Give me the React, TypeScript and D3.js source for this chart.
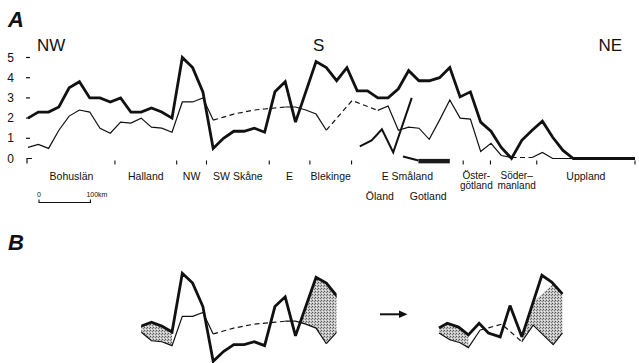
import React from "react";
import * as d3 from "d3";

const WIDTH = 639;
const HEIGHT = 363;
const FONT = "'Liberation Sans', Arial, Helvetica, sans-serif";

// Coastal profile, one sample every 20 km from the NW end
const SAMPLE_STEP_KM = 20;
const COAST_LENGTH_KM = 1180;

const thickValues: number[] = [
  2.0, 2.3, 2.3, 2.55, 3.5, 3.8, 3.0, 3.0, 2.8, 3.0,
  2.3, 2.3, 2.5, 2.3, 2.0, 5.0, 4.5, 3.3, 0.5, 1.0,
  1.35, 1.35, 1.5, 1.3, 3.3, 3.8, 1.8, 3.3, 4.8, 4.5,
  3.85, 4.5, 3.35, 3.35, 3.0, 3.0, 3.45, 4.35, 3.85, 3.85,
  4.0, 4.5, 3.05, 3.3, 1.8, 1.35, 0.55, 0.0, 0.9, 1.4,
  1.85, 1.05, 0.4, 0, 0, 0, 0, 0, 0, 0,
];

const thinValues: (number | null)[] = [
  0.55, 0.7, 0.5, 1.4, 2.1, 2.4, 2.3, 1.5, 1.25, 1.8,
  1.75, 2.0, 1.55, 1.5, 1.3, 2.8, 2.8, 3.0, 1.9, null,
  null, null, null, null, null, 2.55, 2.55, 2.4, 2.2, 1.4,
  null, null, null, null, 2.38, 2.6, 1.4, 1.55, 1.5, 0.95,
  1.9, 2.9, 2.0, 1.95, 0.35, 0.75, 0.15, 0.05, null, 0.05,
  0.3, 0, 0, 0, 0, 0, 0, 0, 0, 0,
];

// Stretches of the thin profile that are only inferred (dashed): [km, value]
const thinDashedRuns: [number, number][][] = [
  [[360, 1.9], [380, 2.05], [400, 2.2], [420, 2.3], [440, 2.4], [460, 2.45], [480, 2.5], [500, 2.55]],
  [[580, 1.4], [630, 2.87], [680, 2.38]],
  [[940, 0.05], [960, 0.05], [980, 0.05]],
];

// Island profiles
const olandKm = [645, 668, 688, 710, 746];
const olandValues = [0.6, 0.9, 1.45, 0.3, 3.0];
const gotlandKm = [729, 759];
const gotlandValues = [0.1, -0.1];
const gotlandBandKm = [759, 820];

// Region boundaries along the coast (km) and their names
const regionBreaksKm = [0, 169, 289, 347, 469, 548, 629, 846, 899, 989, COAST_LENGTH_KM];
const regionNames: string[][] = [
  ["Bohuslän"], ["Halland"], ["NW"], ["SW Skåne"], ["E"], ["Blekinge"],
  ["E Småland"], ["Öster-", "götland"], ["Söder–", "manland"], ["Uppland"],
];
const islandNames = ["Öland", "Gotland"];
const islandKm = [684, 778];

const yTickValues = [0, 1, 2, 3, 4, 5];
const compassLabels = ["NW", "S", "NE"];

// Panel B: the Halland – Blekinge stretch, before and after
const bBeforeRangeKm = [220, 600];
const bAfterThickKm = [799, 815, 837, 856, 877, 895, 918, 937, 960, 999, 1018, 1039];
const bAfterThickValues = [2.2, 2.45, 2.25, 1.85, 2.45, 1.95, 1.75, 3.35, 1.75, 4.9, 4.55, 3.95];
const bAfterThinKm = [799, 820, 840, 856, 879];
const bAfterThinValues = [1.95, 1.6, 1.45, 1.2, 2.1];
const bAfterDashedKm = [879, 921, 960];
const bAfterDashedValues = [2.1, 2.4, 1.5];
const bAfterThinEndKm = [960, 982, 1021, 1039];
const bAfterThinEndValues = [1.5, 2.35, 1.35, 1.95];

type Pt = [number, number | null];

const x = d3.scaleLinear().domain([0, COAST_LENGTH_KM]).range([28, 635]);
const yA = d3.scaleLinear().domain([0, 5]).range([158.5, 57.5]);
const yB = d3.scaleLinear().domain([0, 5]).range([371.1, 273.3]);

const lineA = d3
  .line<Pt>()
  .defined((d) => d[1] !== null)
  .x((d) => x(d[0]))
  .y((d) => yA(d[1] as number));
const lineB = d3
  .line<Pt>()
  .defined((d) => d[1] !== null)
  .x((d) => x(d[0]))
  .y((d) => yB(d[1] as number));
const areaB = d3
  .area<[number, number, number]>()
  .x((d) => x(d[0]))
  .y0((d) => yB(d[2]))
  .y1((d) => yB(d[1]));

const thickPts: Pt[] = thickValues.map((v, i) => [i * SAMPLE_STEP_KM, v]);
const thinPts: Pt[] = thinValues.map((v, i) => [i * SAMPLE_STEP_KM, v]);
const zip = (a: number[], b: number[]): Pt[] => a.map((k, i) => [k, b[i]]);

function valueAt(pts: [number, number][], km: number): number {
  const sorted = [...pts].sort((p, q) => p[0] - q[0]);
  for (let i = 0; i < sorted.length - 1; i++) {
    const [k0, v0] = sorted[i];
    const [k1, v1] = sorted[i + 1];
    if (km >= k0 && km <= k1) return v0 + ((km - k0) / (k1 - k0)) * (v1 - v0);
  }
  return sorted[sorted.length - 1][1];
}

// lower edge of the thin profile, solid and dashed pieces together
const thinAll: [number, number][] = [
  ...(thinPts.filter((d) => d[1] !== null) as [number, number][]),
  ...thinDashedRuns.flat(),
];
const thickAll = thickPts as [number, number][];

function crossing(a: [number, number][], b: [number, number][], k0: number, k1: number): number {
  const d0 = valueAt(a, k0) - valueAt(b, k0);
  const d1 = valueAt(a, k1) - valueAt(b, k1);
  return k0 + (d0 / (d0 - d1)) * (k1 - k0);
}

function band(top: [number, number][], bottom: [number, number][], kms: number[]) {
  return areaB(kms.map((k) => [k, valueAt(top, k), valueAt(bottom, k)] as [number, number, number])) || "";
}

export default function App() {
  const bLeftStart = bBeforeRangeKm[0];
  const bLeftEnd = bBeforeRangeKm[1];
  const cross = crossing(thickAll, thinAll, 520, 540);
  const leftBandKm = d3.range(bLeftStart, 280 + 1, SAMPLE_STEP_KM);
  const rightBandKm = [cross, ...d3.range(540, bLeftEnd + 1, SAMPLE_STEP_KM)];

  const afterThick = zip(bAfterThickKm, bAfterThickValues) as [number, number][];
  const afterThin = zip(bAfterThinKm, bAfterThinValues) as [number, number][];
  const afterThinEnd = zip(bAfterThinEndKm, bAfterThinEndValues) as [number, number][];

  const text = { fontFamily: FONT, fill: "#111" } as const;

  return (
    <svg
      width={WIDTH}
      height={HEIGHT}
      viewBox={`0 0 ${WIDTH} ${HEIGHT}`}
      style={{ position: "fixed", left: 0, top: 0, background: "#fff" }}
    >
      <defs>
        <pattern id="stipple" width={3} height={3} patternUnits="userSpaceOnUse">
          <rect width={3} height={3} fill="#c4c4c4" />
          <rect x={0} y={0} width={1} height={1} fill="#555" />
          <rect x={2} y={1} width={1} height={1} fill="#777" />
          <rect x={1} y={2} width={1} height={1} fill="#eee" />
        </pattern>
        <clipPath id="bBefore">
          <rect x={x(bLeftStart)} y={200} width={x(bLeftEnd) - x(bLeftStart)} height={170} />
        </clipPath>
      </defs>
      <rect width={WIDTH} height={HEIGHT} fill="#fff" />

      {/* Panel A */}
      <text x={8} y={27} fontSize={22} fontWeight="bold" fontStyle="italic" {...text}>A</text>
      <text x={37} y={51} fontSize={17} {...text}>{compassLabels[0]}</text>
      <text x={313} y={51} fontSize={17} {...text}>{compassLabels[1]}</text>
      <text x={622} y={51} fontSize={17} textAnchor="end" {...text}>{compassLabels[2]}</text>

      {yTickValues.map((t) => (
        <g key={t}>
          <text x={14} y={yA(t) + 4} fontSize={12} textAnchor="end" {...text}>{t}</text>
          {t > 0 ? (
            <line x1={26} x2={30} y1={yA(t)} y2={yA(t)} stroke="#111" strokeWidth={1.2} />
          ) : (
            <path d={`M${x(0) - 1},${yA(0) + 5}V${yA(0)}H${x(0) + 4}`} fill="none" stroke="#111" strokeWidth={1.2} />
          )}
        </g>
      ))}

      {regionBreaksKm.slice(1).map((k) => (
        <line key={k} x1={x(k)} x2={x(k)} y1={yA(0) + 2} y2={yA(0) + 6} stroke="#111" strokeWidth={1.1} />
      ))}
      {regionNames.map((lines, i) => {
        const cx = (x(regionBreaksKm[i]) + x(regionBreaksKm[i + 1])) / 2;
        if (lines.length === 1) {
          return (
            <text key={i} x={cx} y={180} fontSize={10.5} textAnchor="middle" {...text}>
              {lines[0]}
            </text>
          );
        }
        // two-line names in the narrow regions, nudged apart so they do not touch
        const nudge = i === regionNames.length - 2 ? 3 : -0.5;
        return lines.map((s, j) => (
          <text
            key={`${i}-${j}`}
            x={cx + nudge}
            y={179 + j * 10}
            fontSize={10}
            textAnchor="middle"
            {...text}
          >
            {s}
          </text>
        ));
      })}
      {islandNames.map((s, i) => (
        <text key={s} x={x(islandKm[i])} y={200} fontSize={10.5} textAnchor="middle" {...text}>{s}</text>
      ))}

      {/* scale bar */}
      <g>
        <text x={39} y={197} fontSize={7} textAnchor="middle" {...text}>0</text>
        <text x={x(100) - x(0) + 39 - 4} y={197} fontSize={7} {...text}>100km</text>
        <path
          d={`M39,199.5V202.5H${39 + x(100) - x(0)}V199.5`}
          fill="none"
          stroke="#111"
          strokeWidth={1.1}
        />
      </g>

      {/* profiles */}
      <path d={lineA(thinPts) || ""} fill="none" stroke="#111" strokeWidth={1.2} strokeLinejoin="miter" />
      {thinDashedRuns.map((run, i) => (
        <path key={i} d={lineA(run) || ""} fill="none" stroke="#111" strokeWidth={1.2} strokeDasharray="5 3.5" />
      ))}
      <path d={lineA(zip(olandKm, olandValues)) || ""} fill="none" stroke="#111" strokeWidth={2} />
      <path d={lineA(zip(gotlandKm, gotlandValues)) || ""} fill="none" stroke="#111" strokeWidth={2.2} />
      <rect
        x={x(gotlandBandKm[0])}
        y={yA(-0.02)}
        width={x(gotlandBandKm[1]) - x(gotlandBandKm[0])}
        height={yA(-0.24) - yA(-0.02)}
        fill="#1a1a1a"
      />
      <path d={lineA(thickPts) || ""} fill="none" stroke="#111" strokeWidth={2.8} strokeLinejoin="miter" strokeMiterlimit={3} />

      {/* Panel B */}
      <text x={8} y={250} fontSize={22} fontWeight="bold" fontStyle="italic" {...text}>B</text>

      <g clipPath="url(#bBefore)">
        <path d={band(thickAll, thinAll, leftBandKm)} fill="url(#stipple)" />
        <path d={band(thickAll, thinAll, rightBandKm)} fill="url(#stipple)" />
        <path d={lineB(thinPts) || ""} fill="none" stroke="#111" strokeWidth={1.2} />
        <path d={lineB(thinDashedRuns[0]) || ""} fill="none" stroke="#111" strokeWidth={1.2} strokeDasharray="5 3.5" />
        <path d={lineB(thinDashedRuns[1]) || ""} fill="none" stroke="#111" strokeWidth={1.2} />
        <path d={lineB(thickPts) || ""} fill="none" stroke="#111" strokeWidth={2.8} strokeMiterlimit={3} />
      </g>

      {/* arrow */}
      <line x1={380} x2={402} y1={314.3} y2={314.3} stroke="#111" strokeWidth={2} />
      <path d="M399,310.5L407.5,314.3L399,318.1Z" fill="#111" />

      <path d={band(afterThick, afterThin, bAfterThinKm.slice(0, 4))} fill="url(#stipple)" />
      <path d={band(afterThick, afterThinEnd, bAfterThinEndKm)} fill="url(#stipple)" />
      <path d={lineB(zip(bAfterThinKm, bAfterThinValues)) || ""} fill="none" stroke="#111" strokeWidth={1.2} />
      <path d={lineB(zip(bAfterDashedKm, bAfterDashedValues)) || ""} fill="none" stroke="#111" strokeWidth={1.2} strokeDasharray="5 3.5" />
      <path d={lineB(afterThinEnd) || ""} fill="none" stroke="#111" strokeWidth={1.2} />
      <path d={lineB(afterThick) || ""} fill="none" stroke="#111" strokeWidth={2.8} strokeMiterlimit={3} />
    </svg>
  );
}
